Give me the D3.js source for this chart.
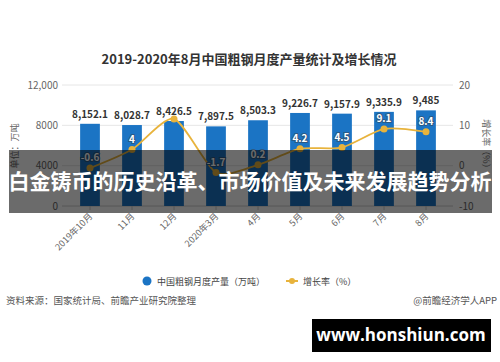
<!DOCTYPE html>
<html>
<head>
<meta charset="utf-8">
<script src="https://cdn.jsdelivr.net/npm/d3@7/dist/d3.min.js"></script>
<style>
  body { margin: 0; background: #fff; }
  svg { display: block; font-family: "Noto Sans CJK SC", "Noto Sans", sans-serif; }
</style>
</head>
<body>
<div class="container"></div>
<script>
var months = ['2019年10月', '11月', '12月', '2020年3月', '4月', '5月', '6月', '7月', '8月'];
var output = [8152.1, 8028.7, 8426.5, 7897.5, 8503.3, 9226.7, 9157.9, 9335.9, 9485];
var growth = [-0.6, 4, 11.6, -1.7, 0.2, 4.2, 4.5, 9.1, 8.4];
var leftTicks = [0, 4000, 8000, 12000];
var leftTickLabels = ['0', '4000', '8000', '12,000'];
var rightTicks = [-10, 0, 10, 20];

var translate = function (x, y) {
    return 'translate(' + x + ', ' + y + ')';
};

var visualize = function () {
    const WIDTH = 500;
    const HEIGHT = 362;
    const TOP = 85, BOTTOM = 206, LEFT = 62, RIGHT = 453;

    var svg = d3.select('.container').append('svg')
        .attr('width', WIDTH)
        .attr('height', HEIGHT);

    var xScale = d3.scaleBand().domain(months).range([69, 447])
        .paddingInner(0.53).paddingOuter(0.265);
    var yLeft = d3.scaleLinear().domain([0, 12000]).range([BOTTOM, TOP]);
    var yRight = d3.scaleLinear().domain([-10, 20]).range([BOTTOM, TOP]);
    var cx = function (d, i) { return xScale(months[i]) + xScale.bandwidth() / 2; };

    // title
    svg.append('text')
        .attr('x', 249).attr('y', 64)
        .attr('text-anchor', 'middle')
        .attr('font-size', 13).attr('font-weight', 'bold').attr('fill', '#333')
        .text('2019-2020年8月中国粗钢月度产量统计及增长情况');

    // grid
    svg.append('g').selectAll('line')
        .data(leftTicks)
        .enter().append('line')
        .attr('x1', LEFT).attr('x2', RIGHT)
        .attr('y1', function (d) { return yLeft(d); })
        .attr('y2', function (d) { return yLeft(d); })
        .attr('stroke', function (d) { return d === 0 ? '#ccc' : '#e6e6e6'; })
        .attr('stroke-width', 1);

    // left axis labels
    svg.append('g').selectAll('text')
        .data(leftTicks)
        .enter().append('text')
        .attr('x', 58)
        .attr('y', function (d) { return yLeft(d) + 3.5; })
        .attr('text-anchor', 'end')
        .attr('font-size', 10).attr('fill', '#666')
        .text(function (d, i) { return leftTickLabels[i]; });

    // right axis labels
    svg.append('g').selectAll('text')
        .data(rightTicks)
        .enter().append('text')
        .attr('x', 459)
        .attr('y', function (d) { return yRight(d) + 3.5; })
        .attr('font-size', 10).attr('fill', '#666')
        .text(function (d) { return d; });

    // axis titles
    svg.append('text')
        .attr('transform', translate(18, 146) + ' rotate(-90)')
        .attr('text-anchor', 'middle')
        .attr('font-size', 9).attr('fill', '#666')
        .text('单位：万吨');
    svg.append('text')
        .attr('transform', translate(483, 146) + ' rotate(90)')
        .attr('text-anchor', 'middle')
        .attr('font-size', 9).attr('fill', '#666')
        .text('增长率（%）');

    // x ticks and labels
    var xg = svg.append('g');
    xg.selectAll('line')
        .data(months)
        .enter().append('line')
        .attr('x1', cx).attr('x2', cx)
        .attr('y1', BOTTOM).attr('y2', BOTTOM + 4)
        .attr('stroke', '#ccc');
    xg.selectAll('text')
        .data(months)
        .enter().append('text')
        .attr('transform', function (d, i) { return translate(cx(d, i) + 3, BOTTOM + 11) + ' rotate(-45)'; })
        .attr('text-anchor', 'end')
        .attr('font-size', 9).attr('fill', '#666')
        .text(function (d) { return d; });

    // bars
    svg.append('g').selectAll('rect')
        .data(output)
        .enter().append('rect')
        .attr('x', function (d, i) { return xScale(months[i]); })
        .attr('width', xScale.bandwidth())
        .attr('y', function (d) { return yLeft(d); })
        .attr('height', function (d) { return BOTTOM - yLeft(d); })
        .attr('fill', '#1b74c4');

    svg.append('g').selectAll('text')
        .data(output)
        .enter().append('text')
        .attr('x', cx)
        .attr('y', function (d) { return yLeft(d) - 6; })
        .attr('text-anchor', 'middle')
        .attr('font-size', 10).attr('font-weight', 'bold').attr('fill', '#333')
        .text(function (d) { return d3.format(',')(d); });

    // growth line
    var line = d3.line()
        .x(cx)
        .y(function (d) { return yRight(d); })
        .curve(d3.curveCardinal.tension(0.3));
    svg.append('path')
        .datum(growth)
        .attr('d', line)
        .attr('fill', 'none')
        .attr('stroke', '#e8b33c')
        .attr('stroke-width', 1.8);

    svg.append('g').selectAll('circle')
        .data(growth)
        .enter().append('circle')
        .attr('cx', cx)
        .attr('cy', function (d) { return yRight(d); })
        .attr('r', 3.5)
        .attr('fill', '#e8b33c');

    // the peak label (index 2) is hidden in the reference
    svg.append('g').selectAll('text')
        .data(growth)
        .enter().append('text')
        .attr('x', cx)
        .attr('y', function (d) { return yRight(d) - 7; })
        .attr('text-anchor', 'middle')
        .attr('font-size', 10).attr('font-weight', 'bold')
        .attr('fill', '#fff')
        .attr('stroke', '#2b5a85').attr('stroke-width', 2)
        .attr('paint-order', 'stroke')
        .attr('display', function (d, i) { return i === 2 ? 'none' : null; })
        .text(function (d) { return d; });

    // legend
    var lg = svg.append('g').attr('transform', translate(0, 281));
    lg.append('circle').attr('cx', 147).attr('cy', 0).attr('r', 4.5).attr('fill', '#1b74c4');
    lg.append('text').attr('x', 157).attr('y', 3.5)
        .attr('font-size', 9).attr('fill', '#444')
        .text('中国粗钢月度产量（万吨）');
    lg.append('line').attr('x1', 286).attr('x2', 298).attr('y1', 0).attr('y2', 0)
        .attr('stroke', '#e8b33c').attr('stroke-width', 2);
    lg.append('circle').attr('cx', 292).attr('cy', 0).attr('r', 3).attr('fill', '#e8b33c');
    lg.append('text').attr('x', 303).attr('y', 3.5)
        .attr('font-size', 9).attr('fill', '#444')
        .text('增长率（%）');

    // footer
    svg.append('text').attr('x', 6).attr('y', 304)
        .attr('font-size', 9.5).attr('fill', '#555')
        .text('资料来源：国家统计局、前瞻产业研究院整理');
    svg.append('text').attr('x', 497).attr('y', 304)
        .attr('text-anchor', 'end')
        .attr('font-size', 9.5).attr('fill', '#555')
        .text('@前瞻经济学人APP');

    // overlay banner
    svg.append('rect')
        .attr('x', 9).attr('y', 150).attr('width', 483).attr('height', 63)
        .attr('fill', '#000').attr('opacity', 0.58);
    svg.append('text')
        .attr('x', 250).attr('y', 189)
        .attr('text-anchor', 'middle')
        .attr('font-size', 21).attr('font-weight', 'bold').attr('fill', '#fff')
        .text('白金铸币的历史沿革、市场价值及未来发展趋势分析');

    // site tag
    svg.append('rect')
        .attr('x', 312).attr('y', 319).attr('width', 179).attr('height', 33)
        .attr('fill', '#000');
    svg.append('text')
        .attr('x', 401).attr('y', 341)
        .attr('text-anchor', 'middle')
        .attr('font-family', 'Open Sans, DejaVu Sans, sans-serif')
        .attr('font-size', 17).attr('font-weight', 'bold').attr('fill', '#fff')
        .text('www.honshiun.com');
};

window.onload = visualize;
</script>
</body>
</html>
